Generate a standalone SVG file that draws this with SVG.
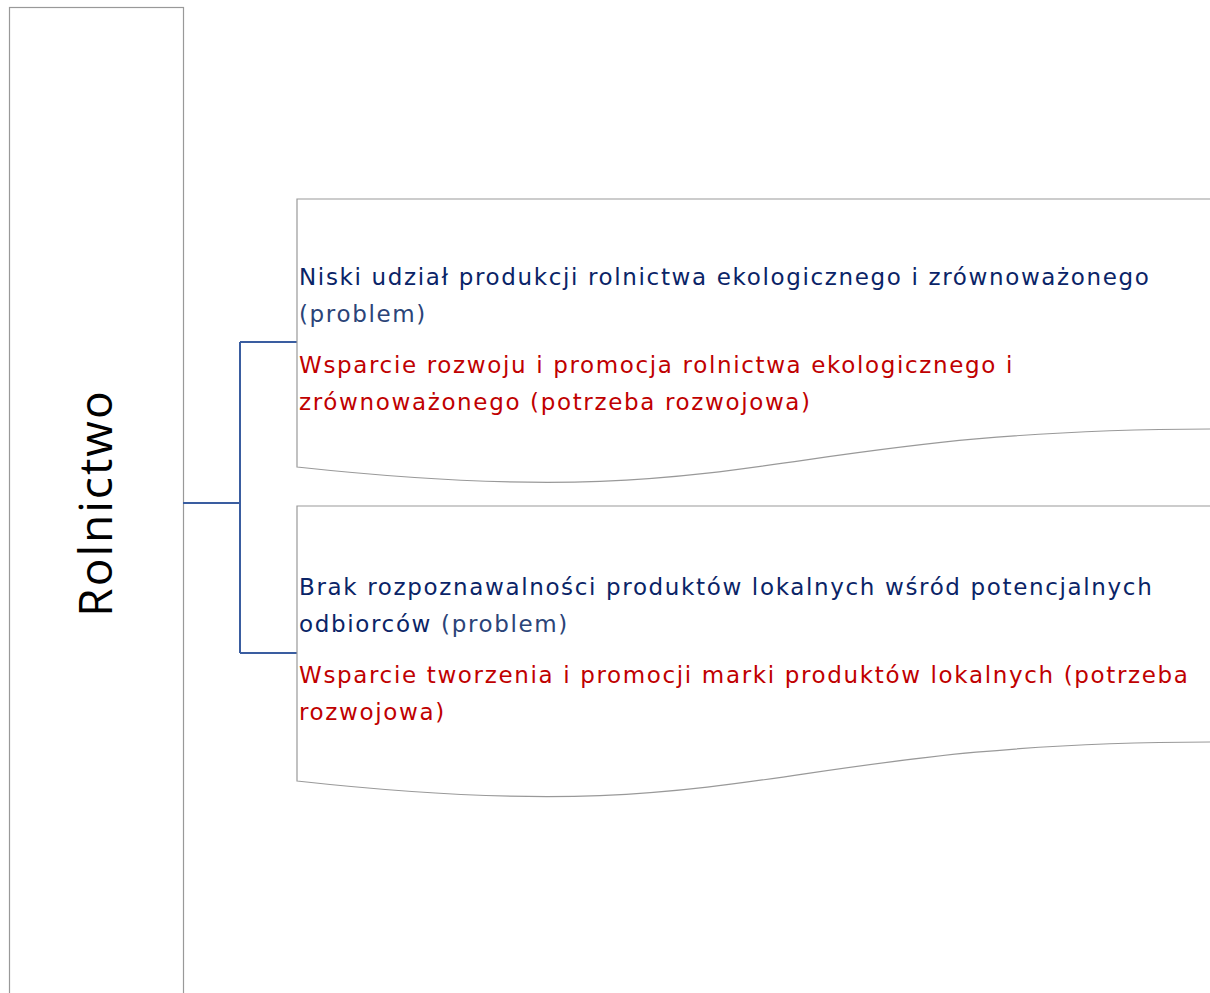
<svg xmlns="http://www.w3.org/2000/svg" width="1210" height="993" viewBox="0 0 1210 993">
<style>
.box{fill:#FFFFFF;stroke:#999999;stroke-width:1.2}
.conn{fill:none;stroke:#3A5DA0;stroke-width:2}
.t{font-family:"DejaVu Sans","Verdana",sans-serif;font-size:23px;letter-spacing:1.65px}
.navy{fill:#0A2467}
.prob{fill:#2B4478}
.red{fill:#C00000}
.title{font-family:"Open Sans","Noto Sans",sans-serif;font-size:46px;letter-spacing:2px;fill:#000000}
</style>
<rect width="1210" height="993" fill="#FFFFFF"/>
<g id="rolnictwo">
<rect class="box" x="9.5" y="7.5" width="174" height="1000"/>
<text class="title" transform="translate(112,503) rotate(-90)" text-anchor="middle">Rolnictwo</text>
</g>
<g id="connectors">
<path class="conn" d="M183,503 H240 M240,342 V653 M240,342 H297 M240,653 H297"/>
</g>
<g id="node1">
<path class="box" d="M297,199 H1219 V429 C758,429 758,517 297,467 Z"/>
<text class="t navy" x="299" y="285">Niski udział produkcji rolnictwa ekologicznego i zrównoważonego</text>
<text class="t prob" x="299" y="322">(problem)</text>
<text class="t red" x="299" y="373">Wsparcie rozwoju i promocja rolnictwa ekologicznego i</text>
<text class="t red" x="299" y="410">zrównoważonego (potrzeba rozwojowa)</text>
</g>
<g id="node2">
<path class="box" d="M297,506 H1219 V742 C758,742 758,832 297,781 Z"/>
<text class="t navy" x="299" y="595">Brak rozpoznawalności produktów lokalnych wśród potencjalnych</text>
<text class="t" x="299" y="632"><tspan class="navy">odbiorców</tspan><tspan class="prob"> (problem)</tspan></text>
<text class="t red" x="299" y="683">Wsparcie tworzenia i promocji marki produktów lokalnych (potrzeba</text>
<text class="t red" x="299" y="720">rozwojowa)</text>
</g>
</svg>
